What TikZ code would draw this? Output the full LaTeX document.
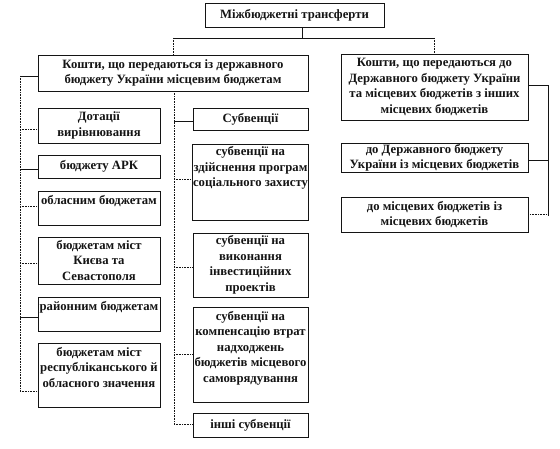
\documentclass[tikz,border=0pt]{standalone}
\usepackage{fontspec}
\setmainfont{Liberation Serif}
\definecolor{ink}{RGB}{20,20,20}
\usepackage{tikz}
\usetikzlibrary{positioning}

\begin{document}
\begin{tikzpicture}[x=1pt,y=-1pt,
    box/.style={draw=ink,line width=0.6pt,align=center,inner xsep=0.4pt,inner ysep=1pt,text=ink,
      font=\bfseries\fontsize{12.7}{15.5}\selectfont},
    leftbox/.style={box,minimum width=122pt},
    midbox/.style={box,minimum width=115pt},
    rightbox/.style={box,minimum width=187pt},
    solidlink/.style={draw=ink,line width=0.6pt},
    dotlink/.style={draw=ink,line width=0.6pt,densely dotted}]
  \useasboundingbox (0,0) rectangle (560,449);
  % top level
  \node[box,minimum width=179pt,minimum height=24pt] (title) at (294.5,15) {Міжбюджетні трансферти};
  \node[box,minimum width=270pt,minimum height=36pt] (state) at (173,73)
    {Кошти, що передаються із державного\\бюджету України місцевим бюджетам};
  \node[rightbox,minimum height=66pt] (other) at (434.5,87)
    {Кошти, що передаються до\\Державного бюджету України\\та місцевих бюджетів з інших\\місцевих бюджетів};
  \coordinate (top) at (302,38);
  \draw[solidlink] (title.south -| top) -- (top);
  \draw[solidlink] (state.north |- top) -- (other.north |- top);
  \draw[dotlink] (state.north |- top) -- (state.north);
  \draw[dotlink] (other.north |- top) -- (other.north);
  % right column
  \node[rightbox,minimum height=28pt] (todb) at (434.5,158) {до Державного бюджету\\України із місцевих бюджетів};
  \node[rightbox,minimum height=35pt] (tolocal) at (434.5,214.5) {до місцевих бюджетів із\\місцевих бюджетів};
  \coordinate (rbus) at (548,85);
  \draw[solidlink] (other.east |- rbus) -- (rbus) -- (rbus |- 0,216);
  \draw[solidlink] (todb.east |- 0,160) -- (rbus |- 0,160);
  \draw[dotlink] (tolocal.east |- 0,214) -- (rbus |- 0,214);
  % left column: dotations
  \node[leftbox,minimum height=35pt] (dot) at (99,125.5) {Дотації\\вирівнювання};
  \node[leftbox,minimum height=23pt] (ark) at (99,166.5) {бюджету АРК};
  \node[leftbox,minimum height=34pt] (obl) at (99,208) {обласним бюджетам\\\mbox{}};
  \node[leftbox,minimum height=47pt] (kyiv) at (99,260.5) {бюджетам міст\\Києва та\\Севастополя};
  \node[leftbox,minimum height=34pt] (rai) at (99,314) {районним бюджетам\\\mbox{}};
  \node[leftbox,minimum height=64pt] (city) at (99,375) {бюджетам міст\\республіканського й\\обласного значення\\\mbox{}};
  \coordinate (lbus) at (20,76);
  \draw[solidlink] (state.west |- lbus) -- (lbus);
  \draw[dotlink] (lbus) -- (lbus |- 0,391);
  \draw[dotlink] (lbus |- 0,129) -- (dot.west |- 0,129);
  \draw[solidlink] (lbus |- 0,169) -- (ark.west |- 0,169);
  \draw[dotlink] (lbus |- 0,206) -- (obl.west |- 0,206);
  \draw[dotlink] (lbus |- 0,263) -- (kyiv.west |- 0,263);
  \draw[solidlink] (lbus |- 0,317) -- (rai.west |- 0,317);
  \draw[dotlink] (lbus |- 0,391) -- (city.west |- 0,391);
  % middle column: subventions
  \node[midbox,minimum height=22pt] (sub) at (250.5,119) {Субвенції};
  \node[midbox,minimum height=76pt] (social) at (250.5,182) {субвенції на\\здійснення програм\\соціального захисту\\\mbox{}\\\mbox{}};
  \node[midbox,minimum height=64pt] (invest) at (250.5,265) {субвенції на\\виконання\\інвестиційних\\проектів};
  \node[midbox,minimum height=95pt] (comp) at (250.5,354.5) {субвенції на\\компенсацію втрат\\надходжень\\бюджетів місцевого\\самоврядування\\\mbox{}};
  \node[midbox,minimum height=24pt] (rest) at (250.5,425) {інші субвенції};
  \coordinate (mbus) at (174,91);
  \draw[dotlink] (state.south -| mbus) -- (mbus |- 0,424);
  \draw[solidlink] (mbus |- 0,121) -- (sub.west |- 0,121);
  \draw[dotlink] (mbus |- 0,179) -- (social.west |- 0,179);
  \draw[dotlink] (mbus |- 0,267) -- (invest.west |- 0,267);
  \draw[dotlink] (mbus |- 0,354) -- (comp.west |- 0,354);
  \draw[dotlink] (mbus |- 0,424) -- (rest.west |- 0,424);
\end{tikzpicture}
\end{document}
